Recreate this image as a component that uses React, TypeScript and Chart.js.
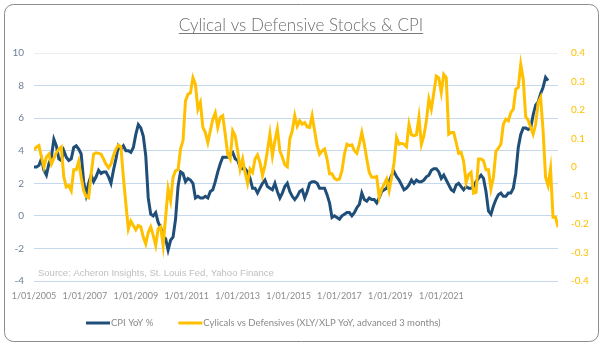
import React, { useEffect, useRef } from "react";
import { Chart, registerables } from "chart.js";

Chart.register(...registerables);

const TITLE = "Cylical vs Defensive Stocks & CPI";
const SOURCE_NOTE = "Source: Acheron Insights, St. Louis Fed, Yahoo Finance";
const CPI_LABEL = "CPI YoY %";
const CYCLICAL_LABEL = "Cylicals vs Defensives (XLY/XLP YoY, advanced 3 months)";

// x-axis tick labels as printed under the chart
const X_TICK_LABELS = [
  "1/01/2005", "1/01/2007", "1/01/2009", "1/01/2011", "1/01/2013",
  "1/01/2015", "1/01/2017", "1/01/2019", "1/01/2021",
];
// spacing of the printed tick labels, in months (data units)
const X_TICK_STEP = 20.5;

// CPI YoY %, monthly from Jan 2005 (left axis)
const CPI = [
  3.0, 3.0, 3.1, 3.5, 2.8, 2.5, 3.2, 3.6, 4.7, 4.3, 3.5, 3.4,
  4.0, 3.6, 3.4, 3.5, 4.2, 4.3, 4.1, 3.8, 2.1, 1.3, 2.0, 2.5,
  2.1, 2.4, 2.8, 2.6, 2.7, 2.7, 2.4, 2.0, 2.8, 3.5, 4.3, 4.1,
  4.3, 4.0, 4.0, 3.9, 4.2, 5.0, 5.6, 5.4, 4.9, 3.7, 1.1, 0.1,
  0.0, 0.2, -0.4, -0.7, -1.3, -1.4, -2.1, -1.5, -1.3, -0.2, 1.8, 2.7,
  2.6, 2.1, 2.3, 2.2, 2.0, 1.1, 1.2, 1.1, 1.1, 1.2, 1.1, 1.5,
  1.6, 2.1, 2.7, 3.2, 3.6, 3.6, 3.6, 3.8, 3.9, 3.5, 3.4, 3.0,
  2.9, 2.9, 2.7, 2.3, 1.7, 1.7, 1.4, 1.7, 2.0, 2.2, 1.8, 1.7,
  1.6, 2.0, 1.5, 1.1, 1.4, 1.8, 2.0, 1.5, 1.2, 1.0, 1.2, 1.5,
  1.6, 1.1, 1.5, 2.0, 2.1, 2.1, 2.0, 1.7, 1.7, 1.7, 1.3, 0.8,
  -0.1, 0.0, -0.1, -0.2, 0.0, 0.1, 0.2, 0.2, 0.0, 0.2, 0.5, 0.7,
  1.4, 1.0, 0.9, 1.1, 1.0, 1.0, 0.8, 1.1, 1.5, 1.6, 1.7, 2.1,
  2.5, 2.7, 2.4, 2.2, 1.9, 1.6, 1.7, 1.9, 2.2, 2.0, 2.2, 2.1,
  2.1, 2.2, 2.4, 2.5, 2.8, 2.9, 2.9, 2.7, 2.3, 2.5, 2.2, 1.9,
  1.6, 1.5, 1.9, 2.0, 1.8, 1.6, 1.8, 1.7, 1.7, 1.8, 2.1, 2.3,
  2.5, 2.3, 1.5, 0.3, 0.1, 0.6, 1.0, 1.3, 1.4, 1.2, 1.2, 1.4,
  1.4, 1.7, 2.6, 4.2, 5.0, 5.4, 5.4, 5.3, 5.4, 6.2, 6.8, 7.0,
  7.5, 7.9, 8.5, 8.3,
];

// XLY/XLP YoY (advanced 3 months), monthly from Jan 2005 (right axis)
const CYCLICALS = [
  0.06, 0.07, 0.075, 0.035, 0.0, 0.035, 0.045, 0.01, 0.03, 0.05, 0.063, 0.07,
  -0.035, -0.07, -0.065, -0.083, -0.01, -0.01, 0.02, -0.036, -0.083, -0.104, -0.108, -0.025,
  0.045, 0.05, 0.048, 0.045, 0.028, 0.01, -0.003, 0.01, 0.04, 0.063, 0.077, 0.07,
  -0.036, -0.13, -0.217, -0.19, -0.205, -0.22,
  -0.205, -0.21, -0.246, -0.27, -0.23, -0.21, -0.24, -0.275, -0.217, -0.21, -0.275, -0.176,
  -0.077, -0.118, -0.036, -0.013, -0.01, 0.063, 0.092, 0.232, 0.255, 0.26, 0.313, 0.29,
  0.203, 0.226, 0.139, 0.121, 0.086, 0.127, 0.168, 0.19, 0.139, 0.174, 0.18, 0.115,
  0.045, 0.028, 0.127, 0.11, 0.057, -0.007, 0.028,
  -0.019, -0.057, -0.007, -0.019, 0.028, 0.042, 0.016, -0.03, 0.005, 0.057, 0.115, 0.04,
  0.092, 0.133, 0.057, 0.034, 0.008, 0.001, 0.098, 0.127, 0.18, 0.143, 0.162, 0.15,
  0.156, 0.141, 0.139, 0.18, 0.127, 0.075, 0.045, 0.057, 0.063, 0.028, -0.024, -0.024,
  -0.04, -0.045, -0.042, -0.013, 0.045, 0.08, 0.075,
  0.078, 0.057, 0.048, 0.08, 0.121, 0.08, 0.028, -0.019, -0.036, -0.036, -0.034, -0.106,
  -0.077, -0.06, -0.042, -0.083, -0.036, 0.016, 0.104, 0.08, 0.083, 0.08, 0.071, 0.15,
  0.113, 0.11, 0.113, 0.174, 0.08, 0.11, 0.162, 0.238, 0.203, 0.261, 0.319, 0.313,
  0.261, 0.325, 0.313, 0.115, 0.121, 0.121, 0.086,
  0.048, 0.051, 0.02, -0.054, -0.027, -0.019, -0.092, -0.089, 0.028, 0.028, 0.022, -0.01,
  -0.01, -0.077, -0.036, 0.055, 0.066, 0.08, 0.15, 0.168, 0.162, 0.191, 0.203, 0.273,
  0.279, 0.36, 0.308, 0.176, 0.164, 0.139, 0.115, 0.15, 0.226, 0.244, 0.127, -0.036,
  -0.065, -0.007, -0.176, -0.176, -0.211,
];

const BLUE = "#1f4e79";
const GOLD = "#ffc000";
const FONT = "Lato, 'Open Sans', sans-serif";

const framePlugin = {
  id: "frame",
  beforeDraw(chart: any) {
    const { ctx } = chart;
    ctx.save();
    ctx.fillStyle = "#ffffff";
    ctx.fillRect(0, 0, chart.width, chart.height);
    ctx.beginPath();
    ctx.roundRect(4.5, 4.5, 594, 337, 9);
    ctx.strokeStyle = "#8c8c8c";
    ctx.lineWidth = 1;
    ctx.stroke();
    ctx.restore();
  },
};

const underlinePlugin = {
  id: "underline",
  afterDraw(chart: any) {
    const tb = chart.titleBlock;
    if (!tb) return;
    const { ctx } = chart;
    ctx.save();
    ctx.font = `300 17px ${FONT}`;
    const w = ctx.measureText(TITLE).width;
    const cx = (tb.left + tb.right) / 2;
    const y = Math.round(tb.top + 15 + 10.2 + 8) + 0.5;
    ctx.strokeStyle = "#7a7a7a";
    ctx.lineWidth = 1;
    ctx.beginPath();
    ctx.moveTo(cx - w / 2, y);
    ctx.lineTo(cx + w / 2, y);
    ctx.stroke();
    ctx.restore();
  },
};

const sourcePlugin = {
  id: "sourceNote",
  afterDraw(chart: any) {
    const { ctx, chartArea } = chart;
    ctx.save();
    ctx.font = "9.5px 'Liberation Sans', Arial, sans-serif";
    ctx.fillStyle = "#bfbfbf";
    ctx.textBaseline = "middle";
    ctx.textAlign = "left";
    ctx.fillText(SOURCE_NOTE, chartArea.left + 4, chartArea.bottom - 8);
    ctx.restore();
  },
};

const legendPlugin = {
  id: "customLegend",
  afterDraw(chart: any) {
    const { ctx } = chart;
    ctx.save();
    ctx.font = `normal 9.5px ${FONT}`;
    ctx.textBaseline = "middle";
    ctx.textAlign = "left";
    let x = 86;
    const y = 323;
    chart.data.datasets.forEach((ds: any) => {
      ctx.strokeStyle = ds.borderColor;
      ctx.lineWidth = 3;
      ctx.beginPath();
      ctx.moveTo(x, y);
      ctx.lineTo(x + 24, y);
      ctx.stroke();
      ctx.fillStyle = "#8a8a8a";
      ctx.fillText(ds.label, x + 25, y);
      x += 25 + ctx.measureText(ds.label).width + 25;
    });
    ctx.restore();
  },
};

export default function App() {
  const ref = useRef<HTMLCanvasElement>(null);

  useEffect(() => {
    const canvas = ref.current;
    if (!canvas) return;
    const chart = new Chart(canvas, {
      type: "line",
      data: {
        datasets: [
          {
            label: CPI_LABEL,
            data: CPI.map((y, i) => ({ x: i, y })),
            yAxisID: "y",
            borderColor: BLUE,
            backgroundColor: BLUE,
            borderWidth: 3,
            pointRadius: 0,
            tension: 0,
            order: 1,
          },
          {
            label: CYCLICAL_LABEL,
            data: CYCLICALS.map((y, i) => ({ x: i, y })),
            yAxisID: "y1",
            borderColor: GOLD,
            backgroundColor: GOLD,
            borderWidth: 3,
            pointRadius: 0,
            tension: 0,
            order: 0,
          },
        ],
      },
      options: {
        responsive: false,
        animation: false,
        devicePixelRatio: 1,
        layout: { padding: { left: 4, right: 5, top: 0, bottom: 37 } },
        plugins: {
          legend: { display: false },
          tooltip: { enabled: false },
          title: {
            display: true,
            text: TITLE,
            color: "#6e6e6e",
            font: { family: FONT, size: 17, weight: "300" },
            padding: { top: 15, bottom: 17.6 },
          },
        },
        scales: {
          x: {
            type: "linear",
            min: 0,
            max: CYCLICALS.length - 1,
            grid: { display: false, drawTicks: false },
            border: { display: false },
            afterBuildTicks: (axis: any) => {
              axis.ticks = X_TICK_LABELS.map((_, k) => ({ value: k * X_TICK_STEP }));
            },
            afterFit: (axis: any) => {
              axis.height = 30;
            },
            ticks: {
              autoSkip: false,
              maxRotation: 0,
              minRotation: 0,
              padding: 10,
              color: "#8c8c8c",
              font: { family: FONT, size: 9 },
              callback: (_v: any, i: number) => X_TICK_LABELS[i],
            },
          },
          y: {
            position: "left",
            min: -4,
            max: 10,
            grid: {
              drawTicks: false,
              color: (c: any) => (c.tick && c.tick.value === 10 ? "#eeeeee" : "#c6d9ec"),
            },
            border: { display: false },
            afterFit: (axis: any) => {
              axis.width = 30;
            },
            ticks: {
              stepSize: 2,
              padding: 10,
              color: "#6a7f99",
              font: { family: FONT, size: 10 },
            },
          },
          y1: {
            position: "right",
            min: -0.4,
            max: 0.4,
            grid: { display: false, drawTicks: false },
            border: { display: false },
            afterFit: (axis: any) => {
              axis.width = 40;
            },
            ticks: {
              stepSize: 0.1,
              padding: 13,
              color: GOLD,
              font: { family: FONT, size: 10 },
              callback: (v: any) => String(Number(Number(v).toFixed(1))),
            },
          },
        },
      },
      plugins: [framePlugin, underlinePlugin, sourcePlugin, legendPlugin],
    } as any);
    return () => chart.destroy();
  }, []);

  return (
    <div style={{ position: "fixed", left: 0, top: 0, width: 603, height: 348, background: "#fff" }}>
      <canvas ref={ref} width={603} height={348} style={{ width: 603, height: 348, display: "block" }} />
    </div>
  );
}
